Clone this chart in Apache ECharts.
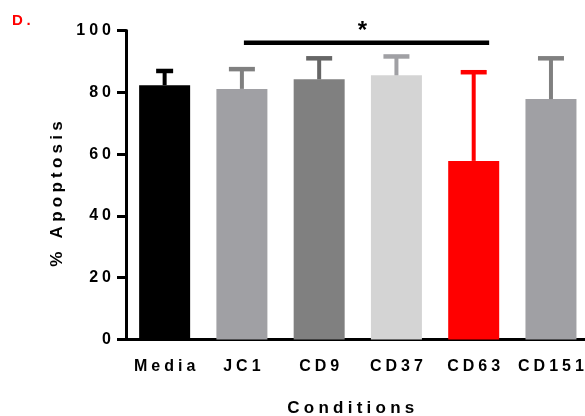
<!DOCTYPE html>
<html>
<head>
<meta charset="utf-8">
<script src="https://cdn.jsdelivr.net/npm/echarts@6/dist/echarts.min.js"></script>
<style>html,body{margin:0;padding:0;background:#fff}#c{width:585px;height:416px}</style>
</head>
<body>
<div id="c"></div>
<script>
// ---- data ----
const categories = ['Media', 'JC1', 'CD9', 'CD37', 'CD63', 'CD151'];
const means = [82.3, 81.1, 84.2, 85.5, 57.8, 77.8];
const sds = [4.6, 6.4, 6.8, 6.1, 28.7, 13.2];
const yTicks = [0, 20, 40, 60, 80, 100];
const sigFrom = 'JC1';
const sigTo = 'CD63';
const sigLevel = 96;
const sigLabel = '*';
const panelLabel = 'D.';
const xTitle = 'Conditions';
const yTitle = '% Apoptosis';

// ---- styles ----
const barColors = ['#000000', '#a0a0a4', '#808080', '#d4d4d4', '#ff0000', '#a0a0a4'];
const errColors = ['#000000', '#808080', '#666666', '#a0a0a4', '#ff0000', '#808080'];
const capWidths = [17, 26, 26, 26, 26, 26];
const FONT = '"Liberation Sans", Arial, sans-serif';
const GAP = '\u2005';
const sp = s => String(s).split('').join(GAP);

const chart = echarts.init(document.getElementById('c'), null, {renderer: 'canvas'});
const iFrom = categories.indexOf(sigFrom), iTo = categories.indexOf(sigTo);

chart.setOption({
  animation: false,
  backgroundColor: '#fff',
  grid: {left: 126, top: 30.5, width: 463.6, bottom: 76.5, containLabel: false, outerBoundsMode: 'none'},
  graphic: [{
    type: 'text', left: 12, top: 13,
    style: {text: sp(panelLabel), fill: '#ff0000', font: 'bold 15px ' + FONT}
  }],
  xAxis: {
    type: 'category', data: categories,
    name: sp(xTitle), nameLocation: 'middle', nameGap: 60,
    nameTextStyle: {fontFamily: FONT, fontWeight: 'bold', fontSize: 17, color: '#000', padding: [0, 14, 0, 0]},
    axisLine: {lineStyle: {color: '#000', width: 3}},
    axisTick: {alignWithLabel: true, length: 8, lineStyle: {color: '#000', width: 3}},
    axisLabel: {interval: 0, fontFamily: FONT, fontWeight: 'bold', fontSize: 16, color: '#000', margin: 19, formatter: v => sp(v)},
    splitLine: {show: false}
  },
  yAxis: {
    type: 'value', min: yTicks[0], max: yTicks[yTicks.length - 1], interval: yTicks[1] - yTicks[0],
    name: sp(yTitle), nameLocation: 'middle', nameGap: 58, nameRotate: 90,
    nameTextStyle: {fontFamily: FONT, fontWeight: 'bold', fontSize: 17, color: '#000', padding: [0, 18, 0, 0]},
    axisLine: {show: true, lineStyle: {color: '#000', width: 3}},
    axisTick: {show: true, length: 9, lineStyle: {color: '#000', width: 3}},
    axisLabel: {fontFamily: FONT, fontWeight: 'bold', fontSize: 16, color: '#000', margin: 15, formatter: v => sp(v)},
    splitLine: {show: false}
  },
  series: [
    {
      type: 'bar', barWidth: 51, z: 2,
      data: means.map((m, i) => ({value: m, itemStyle: {color: barColors[i]}}))
    },
    {
      type: 'custom', z: 3, clip: false,
      encode: {x: 0, y: 1},
      data: means.map((m, i) => [i, m, m + sds[i]]),
      renderItem: function (params, api) {
        const i = params.dataIndex;
        const p0 = api.coord([api.value(0), api.value(1)]);
        const p1 = api.coord([api.value(0), api.value(2)]);
        const cw = capWidths[i];
        const col = errColors[i];
        return {type: 'group', children: [
          {type: 'rect', shape: {x: p0[0] - 2, y: p1[1], width: 4, height: p0[1] - p1[1]}, style: {fill: col}},
          {type: 'rect', shape: {x: p0[0] - cw / 2, y: p1[1] - 2.25, width: cw, height: 4.5}, style: {fill: col}}
        ]};
      }
    },
    {
      type: 'custom', z: 4, clip: false,
      encode: {x: 0, y: 1},
      data: [[iFrom, sigLevel, iTo]],
      renderItem: function (params, api) {
        const a = api.coord([api.value(0), api.value(1)]);
        const b = api.coord([api.value(2), api.value(1)]);
        const bw = api.size([1, 0])[0];
        const x1 = a[0] + 2, x2 = b[0] + 0.2 * bw;
        return {type: 'group', children: [
          {type: 'rect', shape: {x: x1, y: a[1] - 2.25, width: x2 - x1, height: 4.5}, style: {fill: '#000'}},
          {type: 'text', x: (x1 + x2) / 2 - 4, y: a[1] - 11,
           style: {text: sigLabel, fill: '#000', font: 'bold 24px ' + FONT, align: 'center', verticalAlign: 'middle'}}
        ]};
      }
    }
  ]
});
</script>
</body>
</html>
